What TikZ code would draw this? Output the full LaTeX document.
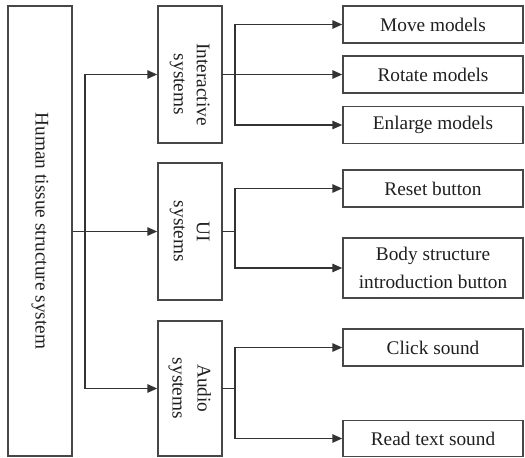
\documentclass[tikz,border=0pt]{standalone}
\usepackage{fontspec}
\setmainfont{Liberation Serif}
\usetikzlibrary{arrows.meta,calc}
\begin{document}
\begin{tikzpicture}[x=1pt,y=-1pt,
  box/.style={draw=black!72,line width=1.5pt,inner sep=0pt,align=center,
    text=black!88,font=\fontsize{19.3}{28}\selectfont},
  leaf/.style={box,minimum width=180pt,minimum height=37pt},
  sys/.style={box,minimum width=64pt,minimum height=137pt},
  wire/.style={draw=black!80,line width=1.5pt,line cap=rect},
  arr/.style={draw=black!80,line width=1.5pt,-{Triangle[length=10pt,width=8.5pt]}}]
\useasboundingbox (0,0) rectangle (525,458);

% root
\node[box,minimum width=64pt,minimum height=450pt] (main) at (40,231)
  {\rotatebox{-90}{Human tissue structure system}};

% subsystems
\node[sys] (inter) at (190,74.5)
  {\rotatebox{-90}{\hspace*{20pt}\fontsize{19.3}{23}\selectfont\begin{tabular}{@{}c@{}}Interactive\\systems\end{tabular}}};
\node[sys] (ui) at (190,231.5)
  {\rotatebox{-90}{\fontsize{19.3}{23}\selectfont\begin{tabular}{@{}c@{}}UI\\systems\end{tabular}}};
\node[sys,minimum height=135pt] (audio) at (190,388.5)
  {\rotatebox{-90}{\fontsize{19.3}{25}\selectfont\begin{tabular}{@{}c@{}}Audio\\systems\end{tabular}}};

% functions
\node[leaf] (move)    at (433,24.5)  {Move models};
\node[leaf] (rotate)  at (433,74.5)  {Rotate models};
\node[leaf] (enlarge) at (433,125)   {Enlarge models};
\node[leaf] (reset)   at (433,188.5) {Reset button};
\node[leaf,minimum height=60pt] (body) at (433,268)
  {Body structure\\introduction button};
\node[leaf] (click)   at (433,347.5) {Click sound};
\node[leaf,minimum height=36pt] (read) at (433,438.5) {Read text sound};

% root to subsystems
\coordinate (tk) at (85,0);
\draw[wire] (tk |- inter.west) -- (tk |- audio.west);
\draw[arr] (tk |- inter.west) -- (inter.west);
\draw[arr] (main.east |- ui.west) -- (ui.west);
\draw[arr] (tk |- audio.west) -- (audio.west);

% subsystems to functions
\coordinate (bx) at (235,0);
\draw[wire] (inter.east) -- (bx |- inter.east);
\draw[wire] (bx |- move.west) -- (bx |- enlarge.west);
\draw[arr] (bx |- move.west) -- (move.west);
\draw[arr] (bx |- rotate.west) -- (rotate.west);
\draw[arr] (bx |- enlarge.west) -- (enlarge.west);

\draw[wire] (ui.east) -- (bx |- ui.east);
\draw[wire] (bx |- reset.west) -- (bx |- body.west);
\draw[arr] (bx |- reset.west) -- (reset.west);
\draw[arr] (bx |- body.west) -- (body.west);

\draw[wire] (audio.east) -- (bx |- audio.east);
\draw[wire] (bx |- click.west) -- (bx |- read.west);
\draw[arr] (bx |- click.west) -- (click.west);
\draw[arr] (bx |- read.west) -- (read.west);
\end{tikzpicture}
\end{document}
